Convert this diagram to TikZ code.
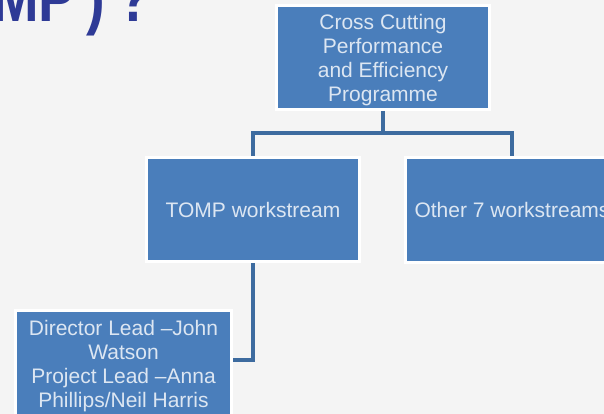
\documentclass[tikz,border=0pt]{standalone}
\usepackage{fontspec}
\setmainfont{Liberation Sans}
\newfontfamily\titlefont[FakeStretch=0.8]{Liberation Sans Bold}
\definecolor{boxblue}{HTML}{4A7EBB}
\definecolor{boxtext}{HTML}{DCE6F2}
\definecolor{linkblue}{HTML}{3D6B9F}
\definecolor{titleblue}{HTML}{2E3A96}
\definecolor{bgcol}{HTML}{F4F4F4}
\begin{document}
\begin{tikzpicture}[x=1pt,y=-1pt,
  orgbox/.style={rectangle, fill=boxblue, draw=white, line width=3pt,
    minimum width=213pt, minimum height=104pt, inner sep=2pt, align=center,
    text=boxtext, font=\fontsize{21}{24}\selectfont},
  link/.style={draw=linkblue, line width=3.5pt}]
\fill[bgcol] (0,0) rectangle (604,414);
\useasboundingbox (0,0) rectangle (604,414);
\node[anchor=base west, inner sep=0pt, text=titleblue, font=\fontsize{70}{70}\titlefont] (title) at (-8,22) {MP\hspace{10pt})\hspace{12.5pt}?};
\node[orgbox] (prog) at (383,57.5) {\rule{0pt}{21pt}Cross Cutting\\Performance\\and Efficiency\\Programme};
\node[orgbox] (tomp) at (253,209.5) {TOMP workstream};
\node[orgbox] (other) at (512,210) {Other 7 workstreams};
\node[orgbox, minimum width=216pt, minimum height=112pt] (lead) at (123.5,366) {Director Lead --John\\Watson\\Project Lead --Anna\\Phillips/Neil Harris};
\coordinate (bus) at (383,133);
\draw[link] (prog.south) -- (bus);
\draw[link] (tomp.north) |- (bus) -| (other.north);
\draw[link] (tomp.south) |- ([yshift=6pt]lead.east);
\end{tikzpicture}
\end{document}
